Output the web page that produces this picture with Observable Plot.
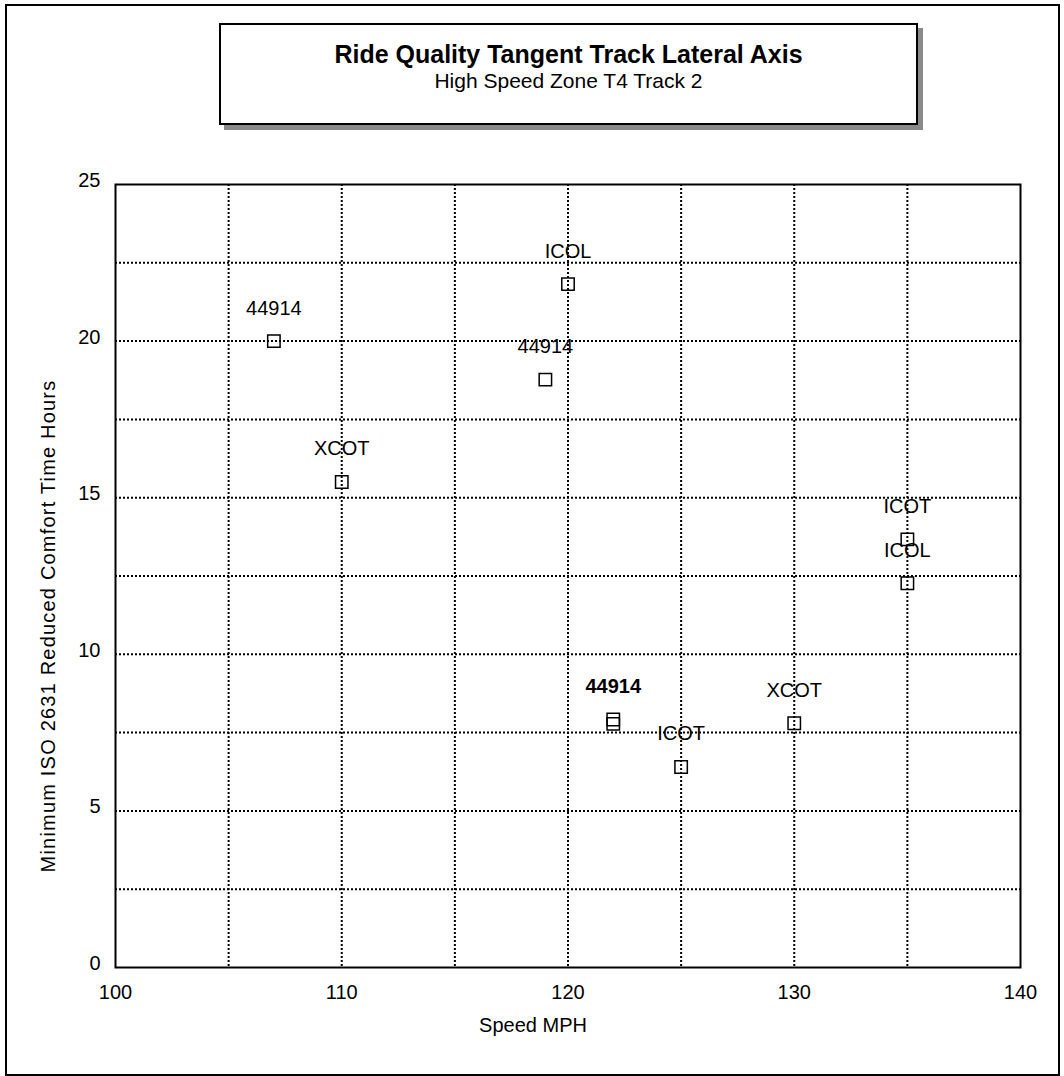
<!DOCTYPE html>
<html>
<head>
<meta charset="utf-8">
<script src="https://cdn.jsdelivr.net/npm/d3@7"></script>
<script src="https://cdn.jsdelivr.net/npm/@observablehq/plot@0.6"></script>
<style>
  html, body { margin: 0; padding: 0; background: #fff; }
  #wrap { position: relative; width: 1064px; height: 1076px; font-family: "Liberation Sans", Arial, sans-serif; }
  #outer { position: absolute; left: 5px; top: 4px; width: 1051px; height: 1068px; border: 2px solid #000; box-sizing: content-box; }
  #titlebox { position: absolute; left: 219px; top: 23px; width: 695px; height: 98px; border: 2px solid #000; background: #fff;
              box-shadow: 5px 5px 0 #8a8a8a; text-align: center; }
  #title { font-weight: bold; font-size: 25px; line-height: 28px; margin-top: 15px; }
  #subtitle { font-size: 21px; line-height: 24px; margin-top: 1px; }
  #chart { position: absolute; left: 0; top: 150px; }
</style>
</head>
<body>
<div id="wrap">
  <div id="outer"></div>
  <div id="titlebox">
    <div id="title">Ride Quality Tangent Track Lateral Axis</div>
    <div id="subtitle">High Speed Zone T4 Track 2</div>
  </div>
  <div id="chart"></div>
</div>
<script>
const speeds = [107, 110, 120, 119, 122, 122, 125, 130, 135, 135];
const hours  = [20.0, 15.5, 21.82, 18.77, 7.92, 7.78, 6.4, 7.8, 13.67, 12.27];
const runs   = ["44914", "XCOT", "ICOL", "44914", "44914", "44914", "ICOT", "XCOT", "ICOT", "ICOL"];
const xTicks = [100, 110, 120, 130, 140];
const yTicks = [0, 5, 10, 15, 20, 25];
const xGrid  = [105, 110, 115, 120, 125, 130, 135];
const yGrid  = [2.5, 5, 7.5, 10, 12.5, 15, 17.5, 20, 22.5];
const xTitle = "Speed MPH";
const yTitle = "Minimum ISO 2631 Reduced Comfort Time Hours";

const data = speeds.map((s, i) => ({speed: s, hours: hours[i], run: runs[i]}));

// Labels: points sharing the same speed and run print on top of each other (looks bold)
const groups = d3.groups(data, d => d.speed + "|" + d.run);
const singleLabels = groups.filter(([, g]) => g.length === 1).map(([, g]) => g[0]);
const stackedLabels = groups.filter(([, g]) => g.length > 1).map(([, g]) => g.reduce((a, b) => (b.hours > a.hours ? b : a)));

const font = "'Liberation Sans', Arial, sans-serif";

const chart = Plot.plot({
  width: 1064,
  height: 880,
  marginTop: 34,
  marginBottom: 63,
  marginLeft: 115,
  marginRight: 44,
  style: {fontFamily: font, fontSize: "20px", background: "transparent", color: "#000", overflow: "visible"},
  x: {domain: [100, 140]},
  y: {domain: [0, 25]},
  marks: [
    Plot.ruleX(xGrid, {stroke: "#000", strokeWidth: 2, strokeDasharray: "2,2"}),
    Plot.ruleY(yGrid, {stroke: "#000", strokeWidth: 2, strokeDasharray: "2,2"}),
    Plot.frame({stroke: "#000", strokeWidth: 2}),
    Plot.axisX({ticks: xTicks, tickSize: 0, tickPadding: 17, label: null, fontSize: 20}),
    Plot.axisY({ticks: yTicks, tickSize: 0, tickPadding: 15, dy: -4, label: null, fontSize: 20}),
    Plot.dot(data, {x: "speed", y: "hours", symbol: "square", r: 7, stroke: "#000", strokeWidth: 1.5, fill: "none"}),
    Plot.text(singleLabels, {x: "speed", y: "hours", text: "run", dy: -33, fontSize: 20, fill: "#000"}),
    Plot.text(stackedLabels, {x: "speed", y: "hours", text: "run", dy: -33, fontSize: 20, fontWeight: "bold", fill: "#000"}),
    Plot.text([yTitle], {frameAnchor: "left", textAnchor: "middle", lineAnchor: "middle", rotate: -90, dx: -67, dy: 50, fontSize: 20, fill: "#000"}),
    Plot.text([xTitle], {frameAnchor: "bottom", textAnchor: "middle", lineAnchor: "middle", dx: -35, dy: 58, fontSize: 20, fill: "#000"})
  ]
});
d3.select(chart).selectAll("text").filter(function () { return this.textContent === yTitle; })
  .attr("letter-spacing", "1.2px");
document.getElementById("chart").appendChild(chart);
</script>
</body>
</html>
